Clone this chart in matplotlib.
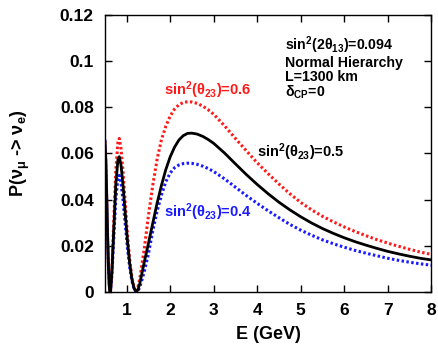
import numpy as np
import matplotlib
matplotlib.use("Agg")
import matplotlib.pyplot as plt

plt.rcParams['font.family'] = ['Liberation Sans', 'DejaVu Sans']
plt.rcParams['font.weight'] = 'bold'
plt.rcParams['mathtext.default'] = 'regular'

# values
E_low = [0.5, 0.52, 0.54, 0.56, 0.58, 0.6, 0.615, 0.63, 0.66, 0.7, 0.75, 0.8, 0.83,
         0.87, 0.92, 0.97, 1.02, 1.07, 1.12, 1.17]
E_tail = [2.5, 2.62, 2.75, 2.87, 3.0, 3.25, 3.5, 3.75, 4.0, 4.25, 4.5, 4.75, 5.0,
          5.25, 5.5, 5.75, 6.0, 6.25, 6.5, 6.75, 7.0, 7.25, 7.5, 7.75, 8.0]

E_black = E_low + [1.22, 1.26, 1.3, 1.35, 1.4, 1.5, 1.6, 1.7, 1.8, 1.9, 2.0, 2.1, 2.2,
                   2.3, 2.4] + E_tail
P_black = [0.065, 0.057, 0.042, 0.025, 0.0116, 0.003, 0.0, 0.0006, 0.0083, 0.0257,
           0.0465, 0.0574, 0.0586, 0.055, 0.0454, 0.0334, 0.0218, 0.0124, 0.0056,
           0.0016,
           0.0, 0.001, 0.0035, 0.0080, 0.0125, 0.0210, 0.0298, 0.0385, 0.0462, 0.0530,
           0.0585, 0.0627, 0.0658, 0.0677, 0.0687,
           0.0688, 0.0684, 0.0674, 0.0661, 0.0644, 0.0602, 0.0555, 0.0509, 0.0466,
           0.0426, 0.0389, 0.0356, 0.0326, 0.0299, 0.0275, 0.0254, 0.0235, 0.0218,
           0.0203, 0.0189, 0.0176, 0.0165, 0.0155, 0.0146, 0.0139]

E_red = E_low + [1.21, 1.25, 1.3, 1.4, 1.5, 1.6, 1.7, 1.8, 1.9, 2.0, 2.1, 2.2, 2.3,
                 2.4] + E_tail
P_red = [0.065, 0.057, 0.042, 0.025, 0.0116, 0.003, 0.0, 0.0007, 0.0093, 0.029,
         0.0524, 0.0650, 0.0665, 0.0622, 0.0511, 0.0376, 0.0245, 0.014, 0.0063, 0.0018,
         0.0, 0.0014, 0.0055, 0.0180, 0.0330, 0.0462, 0.0575, 0.0660, 0.0718, 0.0762,
         0.0792, 0.0811, 0.0821, 0.0824,
         0.0823, 0.0817, 0.0805, 0.0790, 0.0770, 0.0720, 0.0665, 0.0612, 0.0560,
         0.0513, 0.0468, 0.0426, 0.0388, 0.0356, 0.0328, 0.0304, 0.0282, 0.0262,
         0.0244, 0.0227, 0.0212, 0.0198, 0.0185, 0.0173, 0.0163]

E_blue = E_low + [1.22, 1.25, 1.3, 1.4, 1.5, 1.6, 1.7, 1.8, 1.9, 2.0, 2.1, 2.2, 2.3,
                  2.4] + E_tail
P_blue = [0.066, 0.057, 0.042, 0.025, 0.0116, 0.003, 0.0, 0.0005, 0.0072, 0.0222,
          0.0401, 0.0495, 0.0505, 0.0474, 0.0391, 0.0288, 0.0188, 0.0107, 0.0048,
          0.0014,
          0.0002, 0.0, 0.002, 0.0085, 0.0165, 0.0265, 0.0350, 0.0420, 0.0478, 0.0515,
          0.0538, 0.0550, 0.0556, 0.0558,
          0.0557, 0.0553, 0.0545, 0.0535, 0.0522, 0.0490, 0.0454, 0.0418, 0.0384,
          0.0352, 0.0322, 0.0293, 0.0268, 0.0246, 0.0226, 0.0209, 0.0194, 0.0180,
          0.0168, 0.0157, 0.0146, 0.0137, 0.0129, 0.0122, 0.0116]

x_ticks = [1, 2, 3, 4, 5, 6, 7, 8]
y_ticks = [0, 0.02, 0.04, 0.06, 0.08, 0.1, 0.12]
y_ticklabels = ['0', '0.02', '0.04', '0.06', '0.08', '0.1', '0.12']

fig = plt.figure(figsize=(4.39, 3.48), dpi=100)
ax = fig.add_axes([0.239, 0.161, 0.743, 0.796])

ax.plot(E_red, P_red, color='#ff1a1a', lw=2.2, ls=(0, (0.8, 0.8)))
ax.plot(E_blue, P_blue, color='#1a1aff', lw=2.2, ls=(0, (0.8, 0.8)))
ax.plot(E_black, P_black, color='black', lw=2.0)

ax.set_xlim(0.5, 8)
ax.set_ylim(0, 0.12)
ax.set_xticks(x_ticks)
ax.set_yticks(y_ticks)
ax.set_yticklabels(y_ticklabels)
ax.tick_params(direction='in', top=True, right=True, length=5, width=1,
               labelsize=12.5, pad=8)
for lab in ax.get_xticklabels() + ax.get_yticklabels():
    lab.set_fontweight('bold')
for s in ax.spines.values():
    s.set_linewidth(1.0)

ax.set_xlabel('E (GeV)', fontsize=13, fontweight='bold', labelpad=6)
ax.set_ylabel(r'P($\nu_{\mu}$ -> $\nu_{e}$)', fontsize=13, fontweight='bold', labelpad=20)

ax.text(2.87, 0.0875, r'sin$^2$($\theta_{23}$)=0.6', color='#ff1a1a', fontsize=10.5,
        fontweight='bold', ha='center', va='center')
ax.text(5.01, 0.0607, r'sin$^2$($\theta_{23}$)=0.5', color='black', fontsize=10.5,
        fontweight='bold', ha='center', va='center')
ax.text(2.87, 0.0347, r'sin$^2$($\theta_{23}$)=0.4', color='#1a1aff', fontsize=10.5,
        fontweight='bold', ha='center', va='center')

info = [r'sin$^2$(2$\theta_{13}$)=0.094', 'Normal Hierarchy', 'L=1300 km', r'$\delta_{CP}$=0']
info_y = [0.892, 0.828, 0.775, 0.722]
for t, yy in zip(info, info_y):
    ax.text(0.552, yy, t, transform=ax.transAxes, fontsize=10.2,
            fontweight='bold', ha='left', va='center')

fig.savefig('out.png', dpi=100)
